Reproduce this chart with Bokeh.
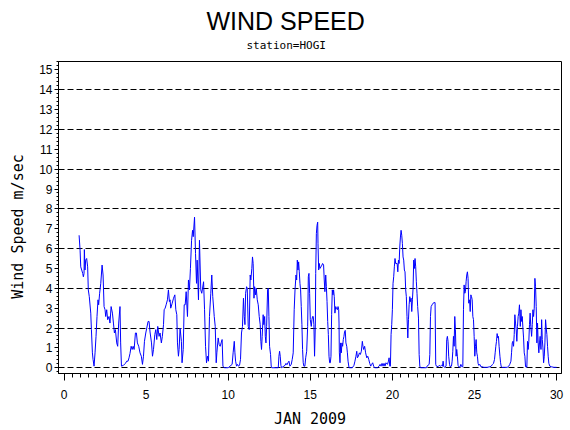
from bokeh.plotting import figure
from bokeh.models import SingleIntervalTicker, FixedTicker, Range1d, Title
from bokeh.embed import file_html
from bokeh.resources import INLINE

# hourly wind speed at station HOGI (day of January, m/sec)
day = [
    0.92, 0.98, 1.02, 1.08, 1.14, 1.18, 1.22, 1.24, 1.28, 1.32, 1.38, 1.44, 1.48, 1.54, 1.63,
    1.67, 1.73, 1.77, 1.83, 1.89, 1.95, 2.01, 2.07, 2.11, 2.17, 2.24, 2.32, 2.38, 2.44, 2.50,
    2.54, 2.60, 2.66, 2.74, 2.80, 2.87, 2.95, 3.01, 3.07, 3.13, 3.21, 3.27, 3.33, 3.41, 3.45,
    3.50, 3.62, 3.74, 3.82, 3.90, 3.96, 4.02, 4.09, 4.15, 4.21, 4.27, 4.35, 4.41, 4.47, 4.55,
    4.63, 4.71, 4.78, 4.84, 4.90, 4.98, 5.12, 5.18, 5.24, 5.33, 5.39, 5.45, 5.53, 5.59, 5.65,
    5.71, 5.79, 5.85, 5.93, 5.99, 6.06, 6.10, 6.16, 6.22, 6.30, 6.36, 6.42, 6.46, 6.50, 6.59,
    6.67, 6.75, 6.81, 6.87, 6.91, 6.97, 7.01, 7.07, 7.15, 7.19, 7.26, 7.32, 7.38, 7.44, 7.52,
    7.58, 7.64, 7.70, 7.77, 7.83, 7.87, 7.95, 8.01, 8.07, 8.11, 8.19, 8.25, 8.33, 8.39, 8.50,
    8.56, 8.62, 8.68, 8.74, 8.80, 8.86, 8.94, 9.00, 9.06, 9.15, 9.21, 9.27, 9.31, 9.39, 9.45,
    9.51, 9.57, 9.63, 9.68, 9.76, 10.00, 10.24, 10.30, 10.37, 10.41, 10.45, 10.51, 10.57, 10.63,
    10.69, 10.75, 10.81, 10.87, 10.93, 10.98, 11.02, 11.06, 11.12, 11.16, 11.22, 11.28, 11.34,
    11.38, 11.44, 11.48, 11.52, 11.57, 11.61, 11.67, 11.71, 11.77, 11.83, 11.89, 11.95, 11.99,
    12.03, 12.07, 12.13, 12.17, 12.22, 12.26, 12.30, 12.34, 12.40, 12.44, 12.48, 12.52, 12.58,
    12.62, 12.66, 13.05, 13.09, 13.13, 13.17, 13.21, 13.25, 13.46, 13.52, 13.58, 13.64, 13.70,
    13.76, 13.84, 13.90, 13.96, 14.02, 14.07, 14.13, 14.17, 14.21, 14.25, 14.29, 14.33, 14.37,
    14.41, 14.45, 14.49, 14.53, 14.57, 14.61, 14.67, 14.72, 14.78, 14.84, 14.88, 14.92, 14.96,
    15.00, 15.06, 15.10, 15.14, 15.18, 15.22, 15.26, 15.31, 15.33, 15.37, 15.41, 15.45, 15.47,
    15.51, 15.55, 15.59, 15.65, 15.71, 15.75, 15.81, 15.85, 15.89, 15.94, 15.98, 16.02, 16.06,
    16.10, 16.14, 16.18, 16.22, 16.26, 16.30, 16.34, 16.38, 16.42, 16.46, 16.50, 16.55, 16.59,
    16.65, 16.69, 16.73, 16.75, 16.77, 16.81, 16.85, 16.89, 16.93, 16.97, 17.01, 17.05, 17.09,
    17.13, 17.17, 17.22, 17.26, 17.30, 17.36, 17.56, 17.66, 17.72, 17.78, 17.83, 17.87, 17.93,
    17.99, 18.05, 18.11, 18.17, 18.21, 18.25, 18.31, 18.37, 18.44, 18.50, 18.56, 18.62, 18.68,
    18.74, 18.80, 18.86, 18.92, 19.09, 19.19, 19.25, 19.31, 19.37, 19.43, 19.49, 19.55, 19.61,
    19.70, 19.76, 19.80, 19.84, 19.88, 19.92, 19.96, 20.00, 20.04, 20.08, 20.12, 20.16, 20.20,
    20.29, 20.33, 20.37, 20.41, 20.45, 20.49, 20.53, 20.57, 20.61, 20.65, 20.69, 20.73, 20.77,
    20.81, 20.85, 20.89, 20.94, 20.98, 21.02, 21.06, 21.10, 21.14, 21.18, 21.22, 21.26, 21.30,
    21.34, 21.38, 21.42, 21.46, 21.50, 21.54, 21.59, 21.63, 21.67, 21.71, 22.07, 22.11, 22.17,
    22.24, 22.28, 22.32, 22.36, 22.42, 22.48, 22.54, 22.60, 22.64, 22.68, 22.78, 22.85, 22.93,
    22.99, 23.05, 23.09, 23.13, 23.19, 23.27, 23.31, 23.35, 23.39, 23.43, 23.48, 23.52, 23.60,
    23.64, 23.68, 23.72, 23.76, 23.80, 23.84, 23.88, 23.92, 23.96, 24.00, 24.04, 24.11, 24.17,
    24.23, 24.29, 24.33, 24.37, 24.41, 24.45, 24.49, 24.53, 24.57, 24.61, 24.65, 24.70, 24.74,
    24.78, 24.82, 24.86, 24.90, 24.94, 24.98, 25.02, 25.06, 25.10, 25.14, 25.18, 25.22, 25.26,
    25.33, 25.39, 25.47, 25.57, 25.77, 25.94, 26.02, 26.10, 26.16, 26.22, 26.26, 26.30, 26.34,
    26.38, 26.42, 26.46, 26.50, 26.55, 26.59, 26.63, 26.69, 26.99, 27.09, 27.15, 27.22, 27.26,
    27.30, 27.34, 27.38, 27.42, 27.46, 27.50, 27.54, 27.58, 27.62, 27.66, 27.70, 27.74, 27.79,
    27.83, 27.87, 27.91, 27.95, 27.99, 28.03, 28.07, 28.11, 28.15, 28.19, 28.23, 28.27, 28.31,
    28.35, 28.39, 28.43, 28.48, 28.52, 28.56, 28.60, 28.64, 28.68, 28.72, 28.76, 28.80, 28.84,
    28.88, 28.92, 28.96, 29.00, 29.05, 29.09, 29.13, 29.17, 29.21, 29.25, 29.29, 29.33, 29.37,
    29.41, 29.45, 29.49, 29.53, 29.59, 29.67, 29.84, 30.00,
]
wind_speed = [
    6.67, 5.92, 5.08, 4.92, 4.75, 4.58, 4.75, 5.95, 4.92, 5.42, 5.50, 5.08, 3.92, 3.58, 2.75,
    1.92, 0.75, 0.42, 0.08, 0.75, 1.58, 2.58, 3.42, 3.17, 3.75, 4.25, 5.17, 4.67, 3.08, 2.92,
    2.58, 2.92, 2.42, 2.58, 2.25, 3.08, 2.75, 2.25, 1.75, 1.92, 1.25, 1.08, 2.25, 3.08, 1.25,
    0.08, 0.12, 0.22, 0.33, 0.33, 0.50, 0.72, 1.08, 0.92, 1.08, 0.92, 1.75, 1.75, 1.25, 1.08,
    0.75, 0.58, 0.17, 0.58, 1.33, 1.75, 2.33, 2.33, 1.80, 1.25, 0.58, 0.92, 1.67, 1.92, 1.42,
    2.08, 1.58, 1.75, 1.25, 1.58, 2.17, 2.92, 3.00, 3.17, 3.42, 3.92, 3.33, 3.42, 3.00, 3.25,
    3.50, 3.67, 2.92, 2.67, 1.25, 0.58, 0.92, 2.00, 1.33, 0.25, 0.92, 3.17, 3.17, 3.83, 2.58,
    4.42, 3.92, 5.00, 6.42, 6.92, 6.60, 7.58, 5.75, 4.25, 5.42, 3.42, 6.42, 3.92, 3.75, 4.33,
    2.92, 1.08, 0.25, 0.58, 0.33, 2.58, 3.75, 4.67, 3.58, 2.58, 2.08, 0.25, 0.75, 1.50, 1.17,
    1.08, 1.25, 1.42, 0.08, 0.00, 0.00, 0.17, 0.75, 1.33, 0.75, 0.33, 0.08, 0.17, 0.08,
    0.12, 0.42, 1.75, 2.08, 3.50, 2.58, 2.17, 3.75, 4.08, 4.00, 2.08, 1.92, 4.67,
    4.42, 5.00, 5.58, 5.25, 3.50, 4.08, 3.67, 4.00, 3.42, 3.17, 2.58, 2.17, 1.33,
    0.92, 1.58, 2.67, 2.17, 2.58, 1.58, 1.25, 2.08, 3.92, 4.00, 2.58, 1.08, 0.67,
    0.08, 0.00, 0.00, 0.58, 0.83, 0.58, 0.12, 0.00, 0.12, 0.22, 0.15, 0.25, 0.33,
    0.08, 0.17, 0.42, 0.75, 2.92, 3.92, 4.67, 4.42, 5.42, 4.92, 5.33, 4.83, 4.25,
    3.92, 3.08, 2.17, 0.92, 0.25, 0.08, 0.08, 0.50, 0.83, 2.08, 4.58, 4.75, 3.75,
    2.42, 2.08, 2.42, 2.58, 2.58, 2.17, 0.58, 2.25, 4.75, 6.75, 7.17, 7.33, 6.25,
    4.92, 5.25, 5.00, 5.08, 5.17, 5.25, 5.17, 4.42, 3.83, 4.67, 4.08, 3.33, 2.33,
    1.67, 0.58, 0.25, 0.25, 0.58, 2.67, 3.92, 3.67, 3.92, 3.58, 2.75, 3.08, 3.00,
    2.92, 3.08, 2.92, 2.25, 0.75, 0.25, 1.25, 0.75, 1.25, 1.08, 1.42, 1.58, 1.83,
    1.88, 1.25, 1.08, 0.75, 0.33, 0.00, 0.00, 0.12, 0.33, 0.58, 0.83, 0.50, 0.58,
    0.75, 0.67, 0.83, 1.33, 1.08, 0.92, 1.08, 0.75, 0.50, 0.58, 0.42, 0.22, 0.08,
    0.17, 0.25, 0.08, 0.00, 0.00, 0.08, 0.17, 0.08, 0.22, 0.08, 0.22, 0.08, 0.25,
    0.17, 0.33, 0.50, 0.08, 0.08, 1.67, 2.17, 2.92, 4.25, 4.58, 5.08, 5.50, 5.25,
    5.25, 4.83, 5.42, 5.25, 6.08, 6.58, 6.92, 6.67, 6.25, 5.58, 5.42, 4.92, 4.83,
    3.92, 3.58, 2.58, 1.50, 2.42, 3.17, 3.58, 3.33, 3.50, 2.83, 3.42, 4.00, 5.42,
    5.00, 5.50, 5.08, 4.33, 3.75, 3.08, 2.50, 0.67, 0.08, 0.00, 0.00, 0.08, 0.12,
    0.17, 0.67, 2.58, 3.08, 3.17, 3.25, 3.28, 3.28, 0.17, 0.08, 0.05, 0.12, 0.08,
    0.12, 0.08, 0.33, 0.05, 0.02, 0.08, 1.42, 1.58, 1.33, 0.58, 0.17, 0.05, 0.08,
    0.33, 0.83, 1.58, 1.08, 2.58, 1.92, 0.58, 0.92, 0.58, 0.12, 0.05, 0.02, 0.17,
    0.05, 0.05, 2.92, 4.17, 3.75, 3.83, 4.33, 4.67, 4.83, 4.50, 3.25, 3.42, 2.83,
    3.67, 3.58, 3.42, 2.58, 2.42, 1.58, 0.58, 1.08, 1.42, 0.75, 0.58, 0.22, 0.12,
    0.17, 0.05, 0.05, 0.02, 0.02, 0.05, 0.08, 0.17, 0.22, 0.42, 0.75, 1.08, 1.33,
    1.72, 1.50, 1.58, 1.08, 0.58, 0.25, 0.05, 0.02, 0.02, 0.08, 0.17, 0.33, 0.78,
    1.25, 1.33, 1.08, 1.67, 2.67, 2.25, 1.92, 1.33, 2.08, 2.58, 2.75, 3.17, 2.08,
    2.92, 2.33, 2.58, 2.00, 1.50, 0.75, 0.58, 0.05, 0.08, 0.02, 1.33, 0.92, 1.33,
    2.17, 2.75, 2.08, 1.58, 2.17, 2.92, 2.58, 3.00, 4.50, 4.08, 3.08, 1.25, 2.25,
    1.25, 0.75, 1.25, 1.58, 0.92, 2.42, 1.42, 1.00, 0.25, 0.58, 1.25, 2.42, 2.00,
    1.67, 1.08, 0.58, 0.22, 0.08, 0.05, 0.02, 0.02,
]

grid_levels = [0, 2, 4, 6, 8, 10, 12, 14]

p = figure(width=570, height=430,
           x_range=Range1d(-0.335, 30.3), y_range=Range1d(-0.29, 15.42),
           output_backend="svg", toolbar_location=None, tools="",
           min_border_left=58, min_border_right=9, min_border_top=61, min_border_bottom=56)

p.line(day, wind_speed, line_color="#0000ff", line_width=1)

# main title is the outer one, the station line sits below it;
# both are centred on the page rather than on the frame
p.title.text = "WIND SPEED"
p.title.align = "left"
p.title.offset = 148
p.title.text_font = "Liberation Sans"
p.title.text_font_size = "25px"
p.title.text_font_style = "normal"
p.title.text_color = "black"
p.title.standoff = -14
p.add_layout(Title(text="station=HOGI", align="left", offset=188, text_font="DejaVu Sans Mono",
                   text_font_size="11px", text_font_style="normal", text_color="black",
                   standoff=19), "above")

p.outline_line_color = "black"
p.outline_line_alpha = 1

p.xaxis.ticker = SingleIntervalTicker(interval=5, num_minor_ticks=10)
p.yaxis.ticker = SingleIntervalTicker(interval=1, num_minor_ticks=5)

p.xgrid.visible = False
p.ygrid.ticker = FixedTicker(ticks=grid_levels)
p.ygrid.grid_line_color = "black"
p.ygrid.grid_line_dash = "6 3"
p.ygrid.grid_line_width = 1

p.axis.axis_line_color = "black"
p.axis.major_tick_line_color = "black"
p.axis.minor_tick_line_color = "black"
p.axis.major_tick_in = 0
p.axis.minor_tick_in = 0
p.xaxis.major_tick_out = 7
p.xaxis.minor_tick_out = 4
p.yaxis.major_tick_out = 4
p.yaxis.minor_tick_out = 2

p.axis.major_label_text_font = "Liberation Sans"
p.axis.major_label_text_font_size = "12px"
p.axis.major_label_text_color = "black"
p.xaxis.major_label_standoff = 9
p.yaxis.major_label_standoff = 2

# two trailing no-break spaces push the rotated label a little below the frame centre
p.xaxis.axis_label = "JAN 2009"
p.yaxis.axis_label = "Wind Speed m/sec\u00a0\u00a0"
p.axis.axis_label_text_font = "DejaVu Sans Mono"
p.axis.axis_label_text_font_size = "15px"
p.axis.axis_label_text_font_style = "normal"
p.axis.axis_label_text_color = "black"
p.xaxis.axis_label_standoff = 8
p.yaxis.axis_label_standoff = 9

open("out.html", "w").write(file_html(p, INLINE))
